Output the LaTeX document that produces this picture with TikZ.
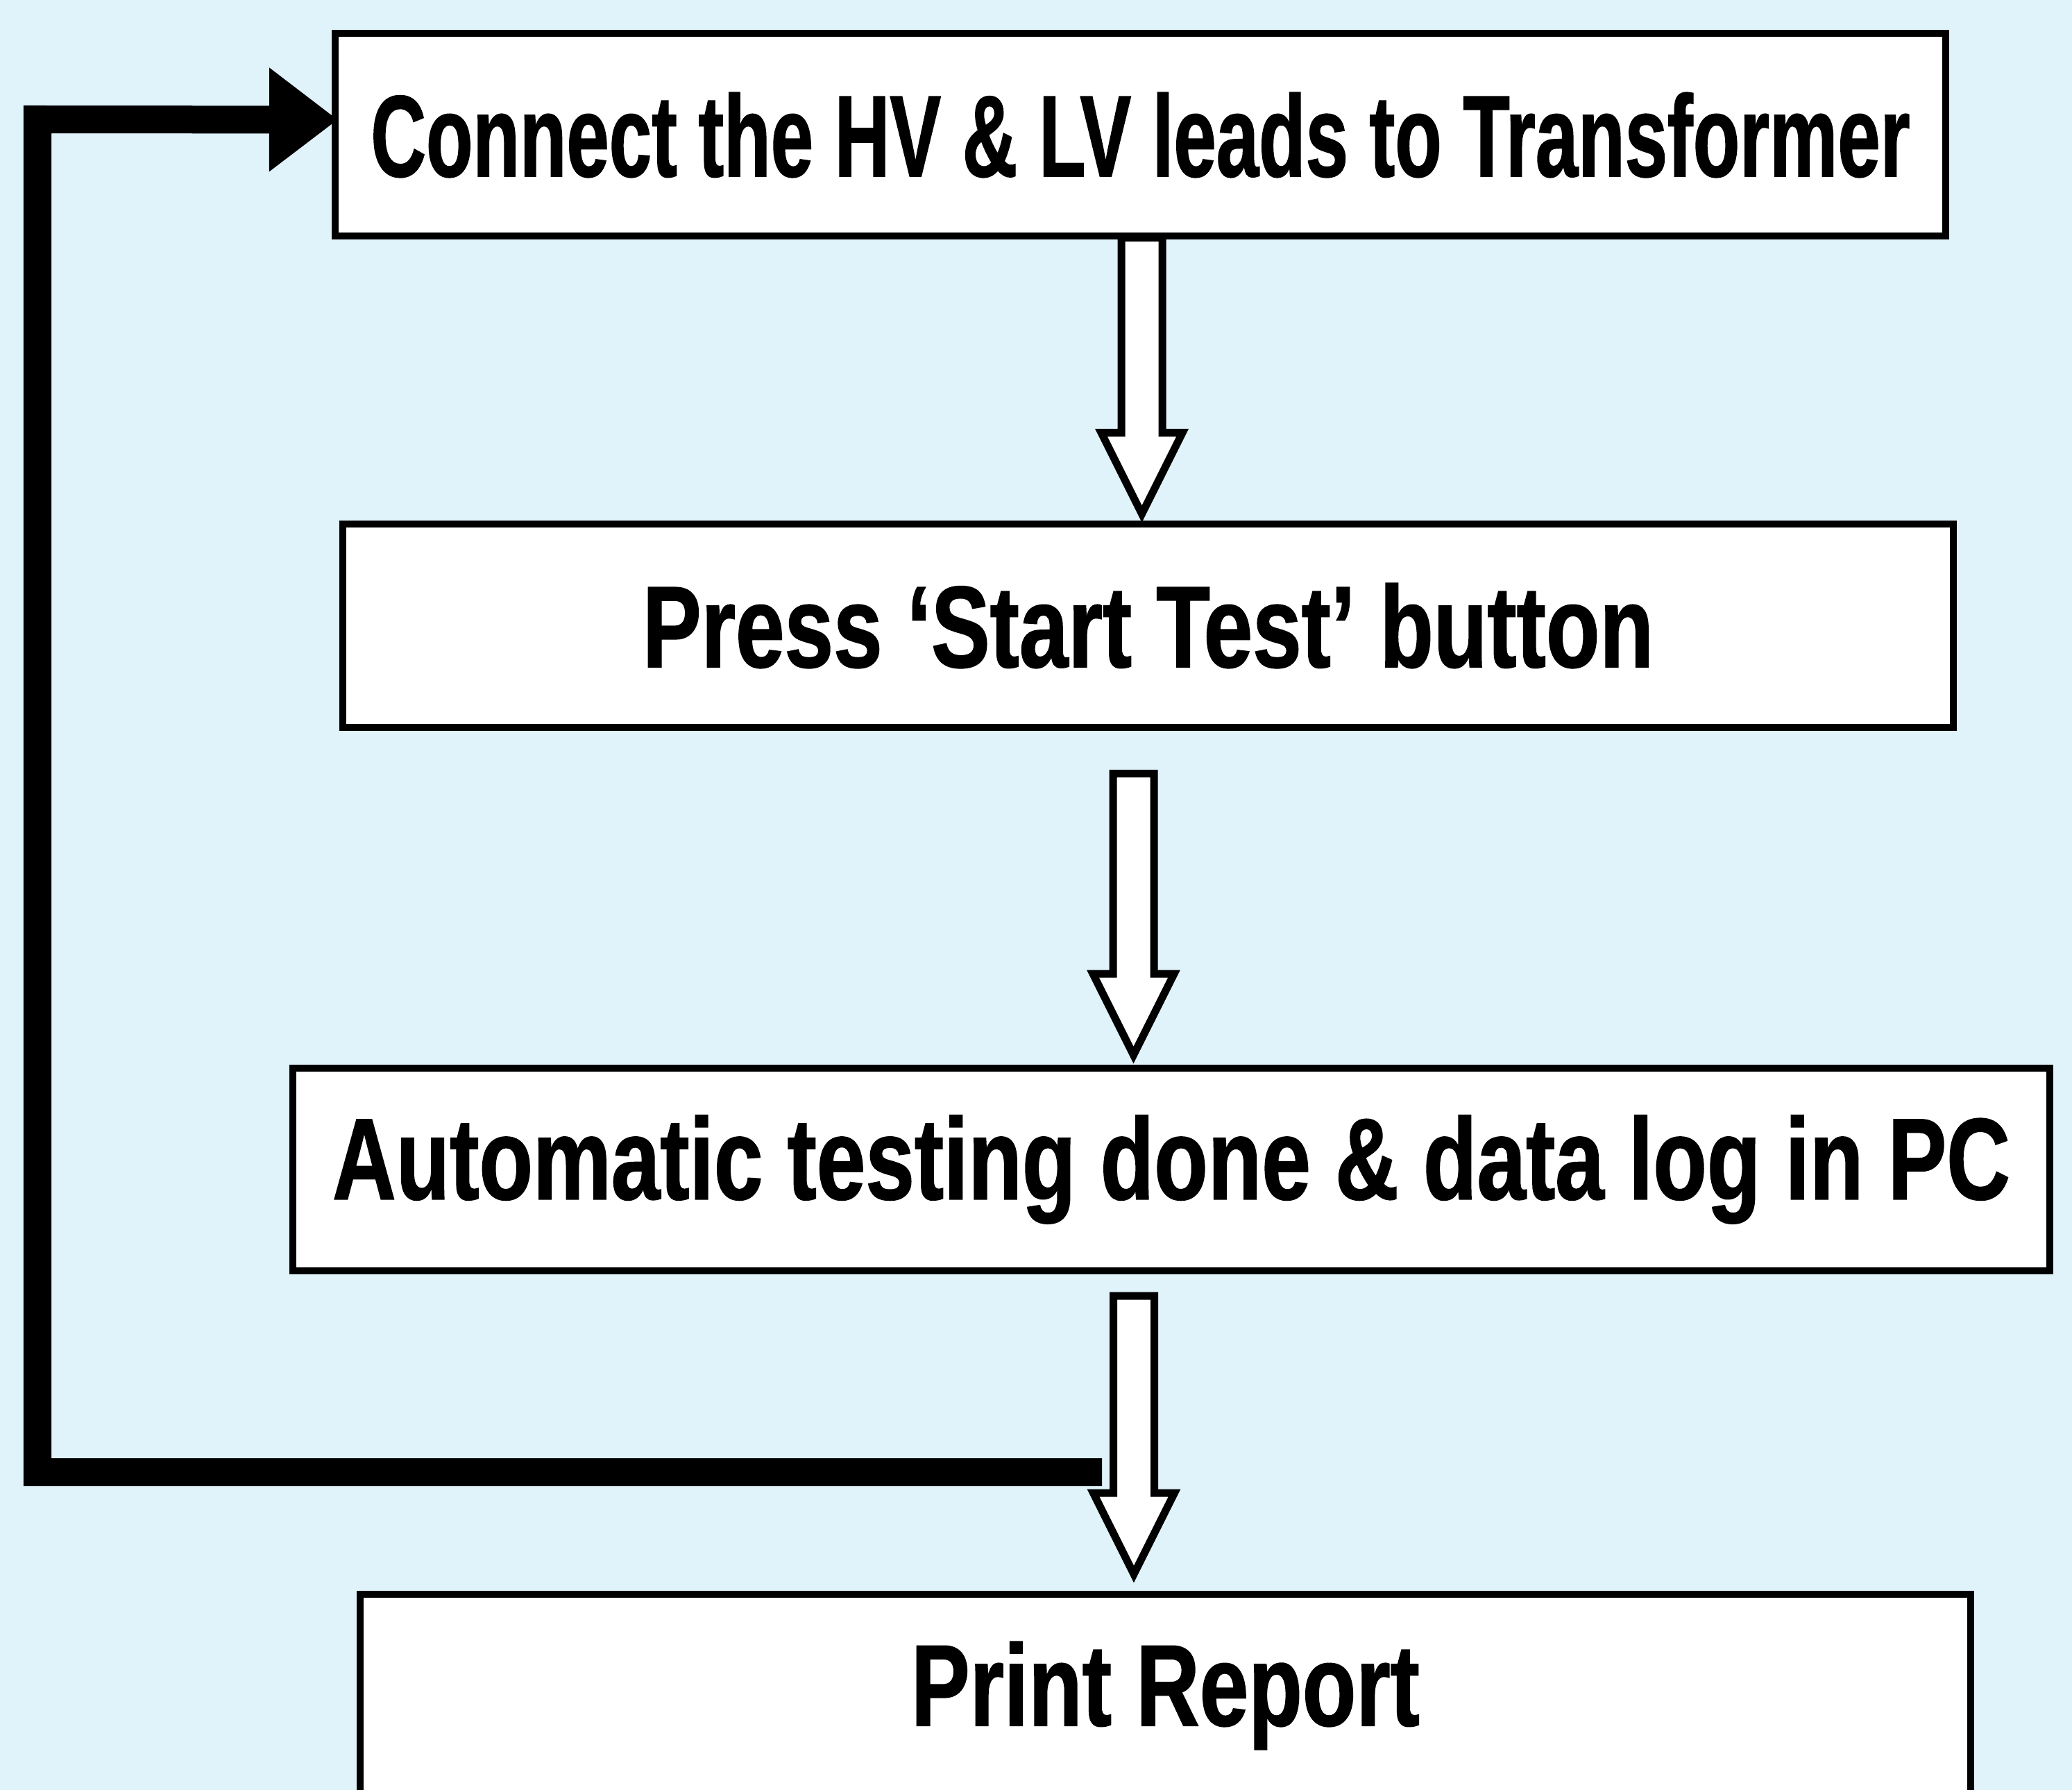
\documentclass[tikz,border=0pt]{standalone}
\usepackage{fontspec}
\usepackage{graphicx}
\usepackage{tikz}
\usetikzlibrary{arrows.meta,calc}
\newfontfamily\flowfont[FakeStretch=0.76,FakeBold=1]{Liberation Sans}
\definecolor{bgblue}{RGB}{224,242,250}

\begin{document}
\begin{tikzpicture}
  \tikzset{
    stepbox/.style={draw, line width=1mm, fill=white, rectangle,
      minimum height=2.92cm, font=\flowfont\bfseries\fontsize{47.5}{50}\selectfont},
    hollowarrow/.style={draw, fill=white, line width=1.1mm, line join=miter,
      to path={let \p1=(\tikztostart), \p2=(\tikztotarget) in
        (\x1-2.95mm,\y1) -- (\x1+2.95mm,\y1) -- (\x1+2.95mm,\y2+11.7mm)
        -- (\x1+5.85mm,\y2+11.7mm) -- (\x1,\y2) -- (\x1-5.85mm,\y2+11.7mm)
        -- (\x1-2.95mm,\y2+11.7mm) -- cycle}},
    feedback/.style={line width=4mm, line join=miter,
      -{Triangle[length=9.9mm,width=14.3mm]}, shorten >=-0.9mm}
  }
  \useasboundingbox (0,0) rectangle (29.86,-25.79);
  \fill[bgblue] (0,0) rectangle (29.86,-25.79);

  \node[stepbox, minimum width=23.21cm] (connect) at (16.435,-1.945)
    {\scalebox{0.87}[1]{Connect the HV \& LV leads to Transformer}};
  \node[stepbox, minimum width=23.21cm] (press) at (16.545,-9.015)
    {Press ‘Start Test’ button};
  \node[stepbox, minimum width=25.32cm] (autotest) at (16.88,-16.85)
    {Automatic testing done \& data log in PC};
  \node[stepbox, minimum width=23.21cm] (report) at (16.795,-24.43)
    {Print Report};

  % downward flow
  \foreach \from/\to/\dx/\up/\down in {connect/press/0.02/0.03/0.1,
      press/autotest/-0.21/-0.62/0.14, autotest/report/-0.54/-0.31/0.24} {
    \draw[hollowarrow] ([xshift=\dx cm,yshift=\up cm]\from.south)
      to ([xshift=\dx cm,yshift=\down cm]\to.north);
  }

  % loop back to the first step
  \coordinate (loop) at (15.88,-21.21);
  \draw[feedback] (loop) -| (0.54,-1.72) -- ([yshift=2.2mm]connect.west);
\end{tikzpicture}
\end{document}
